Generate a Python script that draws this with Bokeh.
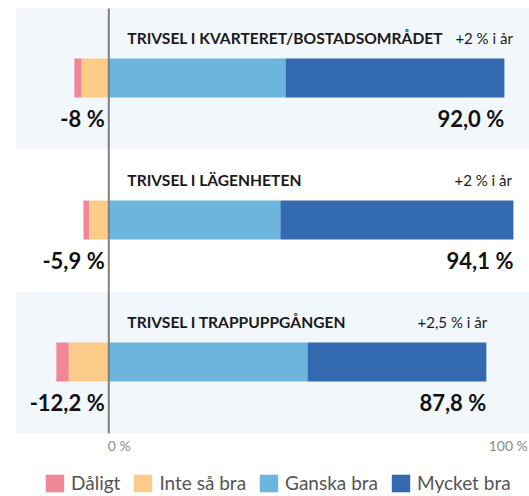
from bokeh.plotting import figure
from bokeh.models import ColumnDataSource, Range1d, Legend, LegendItem, Label
from bokeh.core.properties import value
from bokeh.embed import file_html
from bokeh.resources import INLINE
import numpy as np

# ---------------- data ----------------
categories = ["TRIVSEL I KVARTERET/BOSTADSOMRÅDET", "TRIVSEL I LÄGENHETEN", "TRIVSEL I TRAPPUPPGÅNGEN"]
series = ["Dåligt", "Inte så bra", "Ganska bra", "Mycket bra"]
daligt = [1.7, 1.3, 2.9]
inte_sa_bra = [6.3, 4.6, 9.3]
ganska_bra = [41.1, 39.9, 46.2]
mycket_bra = [50.9, 54.2, 41.6]
neg_labels = ["-8\u202f%", "-5,9\u202f%", "-12,2\u202f%"]
pos_labels = ["92,0\u202f%", "94,1\u202f%", "87,8\u202f%"]
change_labels = ["+2 % i år", "+2 % i år", "+2,5 % i år"]
tick_values = [0, 100]
tick_labels = ["0\u202f%", "100\u202f%"]

# ---------------- layout / style ----------------
W, H = 529, 496
PX_PER_PCT = 4.30
ZERO_PX = 108.3
colors = ["#F08797", "#FBCB8A", "#6CB6DD", "#3369AE"]
band_colors = ["#F2F7FB", "#FFFFFF", "#F2F7FB"]
FONT = "Lato"

x_start = -ZERO_PX / PX_PER_PCT
x_end = (W - ZERO_PX) / PX_PER_PCT
panel_left = x_start + 16 / PX_PER_PCT
centers = [77.5 + 142 * i for i in range(len(categories))]
note_x = [80.6, 80.4, 71.8]

p = figure(width=W, height=H, x_range=Range1d(x_start, x_end), y_range=Range1d(H, 0),
           output_backend="svg", toolbar_location=None, min_border=0,
           x_axis_location=None, y_axis_location=None)
p.grid.visible = False
p.outline_line_color = None
p.background_fill_color = "white"
p.border_fill_color = "white"

# panel bands
p.quad(left=[panel_left] * 3, right=[x_end] * 3,
       top=[c - 70 for c in centers], bottom=[c + 71 for c in centers],
       fill_color=band_colors, line_color=None)

# stacked bars
d = np.array(daligt); i_ = np.array(inte_sa_bra); g = np.array(ganska_bra); m = np.array(mycket_bra)
lefts = [-(i_ + d), -i_, np.zeros(3), g]
rights = [-i_, np.zeros(3), g, g + m]
renderers = []
for k, s in enumerate(series):
    src = ColumnDataSource(dict(y=centers, left=lefts[k], right=rights[k]))
    r = p.hbar(y="y", left="left", right="right", height=39, source=src,
               fill_color=colors[k], line_color=None)
    renderers.append(r)

# zero line
p.segment(x0=[0], x1=[0], y0=[8], y1=[433], line_color="#7f7f7f", line_width=2)

# titles
p.text(x=[4.3] * 3, y=[c - 40 for c in centers], text=categories,
       text_font=value(FONT), text_font_style="bold", text_font_size="15.6px",
       text_color="#1a1a1a", text_align="left", text_baseline="middle")
# change notes
p.text(x=note_x, y=[c - 40 for c in centers], text=change_labels,
       text_font=value(FONT), text_font_size="15px",
       text_color="#1a1a1a", text_align="left", text_baseline="middle")
# value labels
p.text(x=[0] * 3, y=[c + 40 for c in centers], text=neg_labels, x_offset=-4,
       text_font=value(FONT), text_font_style="bold", text_font_size="22px",
       text_color="#111111", text_align="right", text_baseline="middle")
p.text(x=list(g + m), y=[c + 40 for c in centers], text=pos_labels,
       text_font=value(FONT), text_font_style="bold", text_font_size="22px",
       text_color="#111111", text_align="right", text_baseline="middle")

# tick labels
p.add_layout(Label(x=tick_values[0], y=445, text=tick_labels[0], text_align="left",
                   text_baseline="middle", text_font=FONT, text_font_size="14px",
                   text_color="#8a8a8a", x_offset=-1))
p.add_layout(Label(x=tick_values[1], y=445, text=tick_labels[1], text_align="right",
                   text_baseline="middle", text_font=FONT, text_font_size="14px",
                   text_color="#8a8a8a", x_offset=-11))

legend = Legend(items=[LegendItem(label=s, renderers=[r]) for s, r in zip(series, renderers)],
                orientation="horizontal", location=(43, 2), padding=0, margin=0,
                spacing=11, glyph_width=23, glyph_height=22, label_height=22,
                label_standoff=5, label_text_font=FONT, label_text_font_size="19px",
                label_text_color="#555555", border_line_alpha=0, background_fill_alpha=0)
p.add_layout(legend)

open("out.html", "w").write(file_html(p, INLINE))
